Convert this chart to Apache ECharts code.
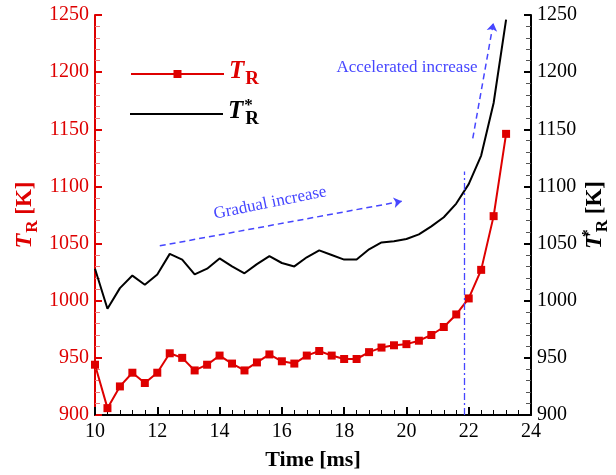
<!DOCTYPE html>
<html>
<head>
<meta charset="utf-8">
<script src="https://cdn.jsdelivr.net/npm/echarts@6/dist/echarts.min.js"></script>
<style>
  html, body { margin: 0; padding: 0; background: #ffffff; }
  #chart { width: 616px; height: 475px; }
</style>
</head>
<body>
<div id="chart"></div>
<script>
// Sampling times (ms)
const timeMs = [10.0, 10.4, 10.8, 11.2, 11.6, 12.0, 12.4, 12.8, 13.2, 13.6,
                14.0, 14.4, 14.8, 15.2, 15.6, 16.0, 16.4, 16.8, 17.2, 17.6,
                18.0, 18.4, 18.8, 19.2, 19.6, 20.0, 20.4, 20.8, 21.2, 21.6,
                22.0, 22.4, 22.8, 23.2];

// T_R (K), left axis
const tempR = [944, 906, 925, 937, 928, 937, 954, 950, 939, 944,
               952, 945, 939, 946, 953, 947, 945, 952, 956, 952,
               949, 949, 955, 959, 961, 962, 965, 970, 977, 988,
               1002, 1027, 1074, 1146];

// T*_R (K), right axis
const tempRStar = [1028, 993, 1011, 1022, 1014, 1023, 1041, 1036, 1023, 1028,
                   1037, 1030, 1024, 1032, 1039, 1033, 1030, 1038, 1044, 1040,
                   1036, 1036, 1045, 1051, 1052, 1054, 1058, 1065, 1073, 1085,
                   1102, 1127, 1173, 1246];

// Axis ranges and tick steps
const xRange = [10, 24], xStep = 2;
const yRange = [900, 1250], yStep = 50;

// Annotation anchors in data coordinates [time, temperature]
const gradualArrow = [[12.08, 1048], [19.85, 1087]];
const acceleratedArrow = [[22.13, 1142], [22.79, 1243]];
const onsetLine = [[21.85, 900], [21.85, 1113]];

const RED = '#de0000';
const BLUE = '#4646ff';
const SERIF = 'Liberation Serif';

const pairs = (xs, ys) => xs.map((x, i) => [x, ys[i]]);
const plainNumber = v => String(v);

// rich text pieces for "T_R" style symbols
function symbolRich(color, big, sub, sup, subPad) {
  return {
    t: { fontFamily: SERIF, fontStyle: 'italic', fontWeight: 'bold', fontSize: big, color: color, verticalAlign: 'top' },
    a: { fontFamily: SERIF, fontWeight: 'bold', fontSize: sup, color: color, verticalAlign: 'top', width: 0, padding: [-2, 0, 0, 1] },
    s: { fontFamily: SERIF, fontWeight: 'bold', fontSize: sub, color: color, verticalAlign: 'top', padding: [subPad, 0, 0, 1] },
    k: { fontFamily: SERIF, fontWeight: 'bold', fontSize: big - 1, color: color, verticalAlign: 'top', padding: [1, 0, 0, 0] }
  };
}

const chart = echarts.init(document.getElementById('chart'), null, { renderer: 'canvas' });

function yAxisCfg(side, color, minorColor, name, gap) {
  return {
    type: 'value',
    position: side,
    min: yRange[0], max: yRange[1], interval: yStep,
    axisLine: { show: true, onZero: false, lineStyle: { color: color, width: 2 } },
    axisTick: { show: true, inside: true, length: 7, lineStyle: { color: color, width: 2 } },
    minorTick: { show: true, splitNumber: 5, length: 5, lineStyle: { color: minorColor, width: 1 } },
    splitLine: { show: false },
    axisLabel: { color: color, fontFamily: SERIF, fontSize: 20, margin: 6, formatter: plainNumber },
    name: name,
    nameLocation: 'middle',
    nameRotate: 90,
    nameGap: gap,
    nameMoveOverlap: false,
    nameTextStyle: { rich: symbolRich(color, 24, 17, 16, 11) }
  };
}

const option = {
  backgroundColor: '#ffffff',
  animation: false,
  textStyle: { fontFamily: SERIF },
  grid: { left: 95, right: 85, top: 15, bottom: 60, outerBoundsMode: 'none', containLabel: false },
  xAxis: {
    type: 'value',
    min: xRange[0], max: xRange[1], interval: xStep,
    axisLine: { onZero: false, lineStyle: { color: '#000', width: 2 } },
    axisTick: { inside: true, length: 8, lineStyle: { color: '#000', width: 2 } },
    minorTick: { show: true, splitNumber: 5, length: 5, lineStyle: { color: '#000', width: 1 } },
    splitLine: { show: false },
    axisLabel: { color: '#000', fontFamily: SERIF, fontSize: 20, margin: 7, formatter: plainNumber },
    name: 'Time [ms]',
    nameLocation: 'middle',
    nameGap: 34,
    nameMoveOverlap: false,
    nameTextStyle: { color: '#000', fontFamily: SERIF, fontSize: 22, fontWeight: 'bold' }
  },
  yAxis: [
    yAxisCfg('left', RED, '#ee7777', '{t|T}{s|R}{k| [K]}', 54),
    yAxisCfg('right', '#000', '#555', '{t|T}{a|*}{s|R}{k| [K]}', 52)
  ],
  legend: [
    {
      data: ['TR'], left: 130, top: 59, orient: 'vertical', padding: 0,
      itemWidth: 93, itemHeight: 10,
      formatter: () => '{t|T}{s|R}',
      textStyle: { rich: symbolRich(RED, 25, 19, 17, 11) }
    },
    {
      data: ['TRstar'], left: 130, top: 97, orient: 'vertical', padding: 0,
      itemWidth: 93, itemHeight: 2, icon: 'rect',
      formatter: () => '{t|T}{a|*}{s|R}',
      textStyle: { rich: symbolRich('#000', 25, 19, 17, 11) }
    }
  ],
  graphic: [
    {
      type: 'text', x: 270, y: 203, rotation: 11.5 * Math.PI / 180,
      style: { text: 'Gradual increase', font: '17px "Liberation Serif"', fill: BLUE, align: 'center', verticalAlign: 'middle' }
    },
    {
      type: 'text', x: 407, y: 68,
      style: { text: 'Accelerated increase', font: '17px "Liberation Serif"', fill: BLUE, align: 'center', verticalAlign: 'middle' }
    }
  ],
  series: [
    {
      name: 'TRstar',
      type: 'line',
      yAxisIndex: 1,
      data: pairs(timeMs, tempRStar),
      symbol: 'none',
      color: '#000',
      lineStyle: { color: '#000', width: 2 },
      z: 2,
      markLine: {
        silent: true,
        animation: false,
        label: { show: false },
        emphasis: { disabled: true },
        data: [
          [
            { coord: gradualArrow[0], symbol: 'none', lineStyle: { color: BLUE, width: 1.5, type: [6, 4] } },
            { coord: gradualArrow[1], symbol: 'arrow', symbolSize: 8 }
          ],
          [
            { coord: acceleratedArrow[0], symbol: 'none', lineStyle: { color: BLUE, width: 1.5, type: [6, 4] } },
            { coord: acceleratedArrow[1], symbol: 'arrow', symbolSize: 8 }
          ],
          [
            { coord: onsetLine[0], symbol: 'none', lineStyle: { color: BLUE, width: 1.3, type: [7, 3, 2, 3] } },
            { coord: onsetLine[1], symbol: 'none' }
          ]
        ]
      }
    },
    {
      name: 'TR',
      type: 'line',
      yAxisIndex: 0,
      data: pairs(timeMs, tempR),
      symbol: 'rect',
      symbolSize: 8,
      color: RED,
      itemStyle: { color: RED },
      lineStyle: { color: RED, width: 2 },
      z: 3
    }
  ]
};

chart.setOption(option);
</script>
</body>
</html>
